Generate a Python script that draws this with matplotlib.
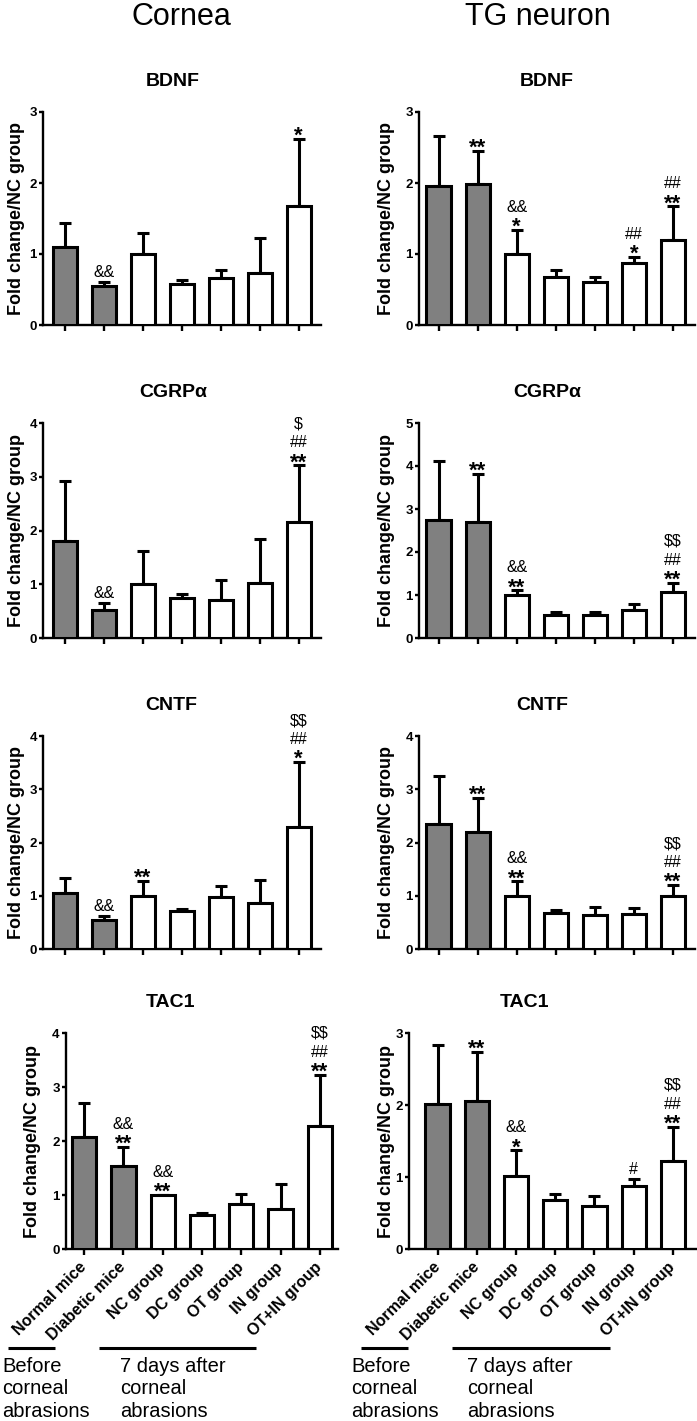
import matplotlib
matplotlib.use("Agg")
import matplotlib.pyplot as plt
from matplotlib.lines import Line2D
from matplotlib.textpath import TextPath
from matplotlib.font_manager import FontProperties

W, H, DPI = 697, 1421, 100
FONT = "Liberation Sans"
plt.rcParams["font.family"] = [FONT, "DejaVu Sans"]

# ---------------- data ----------------
groups = ["Normal mice", "Diabetic mice", "NC group", "DC group",
          "OT group", "IN group", "OT+IN group"]

cornea_bdnf_mean = [1.10, 0.55, 1.00, 0.58, 0.66, 0.73, 1.67]
cornea_bdnf_err = [0.34, 0.06, 0.30, 0.05, 0.12, 0.50, 0.95]
cornea_bdnf_sig = [[], ["&&"], [], [], [], [], ["*"]]

tg_bdnf_mean = [1.96, 1.99, 1.00, 0.68, 0.60, 0.88, 1.20]
tg_bdnf_err = [0.70, 0.46, 0.34, 0.10, 0.08, 0.08, 0.47]
tg_bdnf_sig = [[], ["**"], ["*", "&&"], [], [], ["*", "##"], ["**", "##"]]

cornea_cgrp_mean = [1.81, 0.53, 1.00, 0.74, 0.71, 1.02, 2.16]
cornea_cgrp_err = [1.11, 0.12, 0.61, 0.07, 0.36, 0.82, 1.05]
cornea_cgrp_sig = [[], ["&&"], [], [], [], [], ["**", "##", "$"]]

tg_cgrp_mean = [2.75, 2.70, 1.01, 0.53, 0.53, 0.64, 1.07]
tg_cgrp_err = [1.36, 1.12, 0.10, 0.08, 0.07, 0.14, 0.22]
tg_cgrp_sig = [[], ["**"], ["**", "&&"], [], [], [], ["**", "##", "$$"]]

cornea_cntf_mean = [1.06, 0.55, 1.00, 0.72, 0.97, 0.86, 2.30]
cornea_cntf_err = [0.27, 0.07, 0.28, 0.04, 0.22, 0.44, 1.21]
cornea_cntf_sig = [[], ["&&"], ["**"], [], [], [], ["*", "##", "$$"]]

tg_cntf_mean = [2.35, 2.19, 1.00, 0.67, 0.64, 0.66, 0.99]
tg_cntf_err = [0.89, 0.65, 0.27, 0.07, 0.14, 0.11, 0.21]
tg_cntf_sig = [[], ["**"], ["**", "&&"], [], [], [], ["**", "##", "$$"]]

cornea_tac1_mean = [2.08, 1.53, 1.00, 0.63, 0.83, 0.75, 2.28]
cornea_tac1_err = [0.63, 0.36, 0.00, 0.04, 0.18, 0.45, 0.95]
cornea_tac1_sig = [[], ["**", "&&"], ["**", "&&"], [], [], [], ["**", "##", "$$"]]

tg_tac1_mean = [2.01, 2.06, 1.01, 0.68, 0.60, 0.88, 1.22]
tg_tac1_err = [0.82, 0.68, 0.36, 0.09, 0.14, 0.09, 0.48]
tg_tac1_sig = [[], ["**"], ["*", "&&"], [], [], ["#"], ["**", "##", "$$"]]

bar_fill = ["#808080", "#808080", "white", "white", "white", "white", "white"]

# ---------------- layout (pixels) ----------------
panels = [
    ("BDNF", cornea_bdnf_mean, cornea_bdnf_err, cornea_bdnf_sig, 3, 43, 321, 112, 325, (-0.56, 6.57), 173, 17, False),
    ("BDNF", tg_bdnf_mean, tg_bdnf_err, tg_bdnf_sig, 3, 419, 695, 112, 325, (-0.50, 6.56), 547, 387, False),
    ("CGRP\u03b1", cornea_cgrp_mean, cornea_cgrp_err, cornea_cgrp_sig, 4, 43, 321, 423, 638, (-0.56, 6.57), 173, 17, False),
    ("CGRP\u03b1", tg_cgrp_mean, tg_cgrp_err, tg_cgrp_sig, 5, 419, 695, 423, 638, (-0.50, 6.56), 547, 387, False),
    ("CNTF", cornea_cntf_mean, cornea_cntf_err, cornea_cntf_sig, 4, 43, 321, 736, 949, (-0.56, 6.57), 171, 17, False),
    ("CNTF", tg_cntf_mean, tg_cntf_err, tg_cntf_sig, 4, 419, 695, 736, 949, (-0.50, 6.56), 542, 387, False),
    ("TAC1", cornea_tac1_mean, cornea_tac1_err, cornea_tac1_sig, 4, 66, 338, 1033, 1249, (-0.46, 6.46), 171, 33, True),
    ("TAC1", tg_tac1_mean, tg_tac1_err, tg_tac1_sig, 3, 409, 696, 1033, 1249, (-0.73, 6.59), 525, 387, True),
]

fig = plt.figure(figsize=(W / DPI, H / DPI), dpi=DPI)

PX = 72.0 / DPI  # points per pixel
STAR_PT = 16
SIG_PT = 11.5
star_fp = FontProperties(family=FONT, weight="bold", size=STAR_PT)
tp = TextPath((0, 0), "*", size=100, prop=star_fp)
star_bottom_ratio = tp.get_extents().y0 / 100.0
star_px = STAR_PT / PX


def fx(x):
    return x / W


def fy(y):
    return 1 - y / H


for (title, mean, err, sig, ymax, x0, x1, yt, yb, xlim, tx, ylx, show_labels) in panels:
    ax = fig.add_axes([fx(x0), fy(yb), (x1 - x0) / W, (yb - yt) / H])
    xs = list(range(len(groups)))
    ax.errorbar(xs, mean, yerr=[[0] * len(err), err], fmt="none", ecolor="black",
                elinewidth=2.2, capsize=4.2, capthick=2.2, zorder=2)
    ax.bar(xs, mean, width=0.62, color=bar_fill, edgecolor="black", linewidth=2.2, zorder=3)
    ax.set_xlim(*xlim)
    ax.set_ylim(0, ymax)
    ax.set_yticks(range(0, ymax + 1))
    ax.set_xticks(xs)
    for s in ["top", "right"]:
        ax.spines[s].set_visible(False)
    for s in ["left", "bottom"]:
        ax.spines[s].set_linewidth(1.7)
    ax.tick_params(axis="y", length=3, width=1.7, pad=1.5, labelsize=9.5)
    ax.tick_params(axis="x", length=4.5, width=1.7)
    for lab in ax.get_yticklabels():
        lab.set_fontweight("bold")
    if show_labels:
        ax.set_xticklabels(groups, rotation=45, ha="right", va="center",
                           rotation_mode="anchor", fontsize=11.5, fontweight="bold")
        ax.tick_params(axis="x", pad=7)
    else:
        ax.set_xticklabels([])

    # significance marks
    for i, lines in enumerate(sig):
        top = mean[i] + err[i]
        nxt = 0
        for j, s in enumerate(lines):
            if j == 0:
                if s.startswith("*"):
                    base = 4 - star_bottom_ratio * star_px
                    nxt = 18
                else:
                    base = 5
                    nxt = base + 18
            else:
                base = nxt
                nxt = base + 19
            if s.startswith("*"):
                ax.annotate(s, xy=(i, top), xytext=(0, base * PX), textcoords="offset points",
                            ha="center", va="baseline", fontsize=STAR_PT, fontweight="bold",
                            annotation_clip=False, parse_math=False)
            else:
                ax.annotate(s, xy=(i, top), xytext=(0, base * PX), textcoords="offset points",
                            ha="center", va="baseline", fontsize=SIG_PT,
                            annotation_clip=False, parse_math=False)

    fig.text(fx(tx), fy(yt - 26), title, ha="center", va="baseline",
             fontsize=14, fontweight="bold")
    fig.text(fx(ylx), fy((yt + yb) / 2), "Fold change/NC group", rotation=90,
             ha="center", va="center", fontsize=13, fontweight="bold")

# column headers
fig.text(fx(181), fy(25), "Cornea", ha="center", va="baseline", fontsize=22)
fig.text(fx(538), fy(25), "TG neuron", ha="center", va="baseline", fontsize=22)

# bottom group brackets
bracket_lines = [(8, 55), (99, 256), (361, 408), (452, 610)]
for a, b in bracket_lines:
    fig.add_artist(Line2D([fx(a), fx(b)], [fy(1348), fy(1348)], transform=fig.transFigure,
                          color="black", linewidth=2.2, solid_capstyle="butt"))

before_text = ["Before", "corneal", "abrasions"]
after_text = ["7 days after", "corneal", "abrasions"]
baselines = [1372, 1394.5, 1417]
for xl, lines in [(2, before_text), (120, after_text), (351, before_text), (467, after_text)]:
    for line, yb_ in zip(lines, baselines):
        fig.text(fx(xl), fy(yb_), line, ha="left", va="baseline", fontsize=14.5)

fig.savefig("out.png", dpi=DPI)
